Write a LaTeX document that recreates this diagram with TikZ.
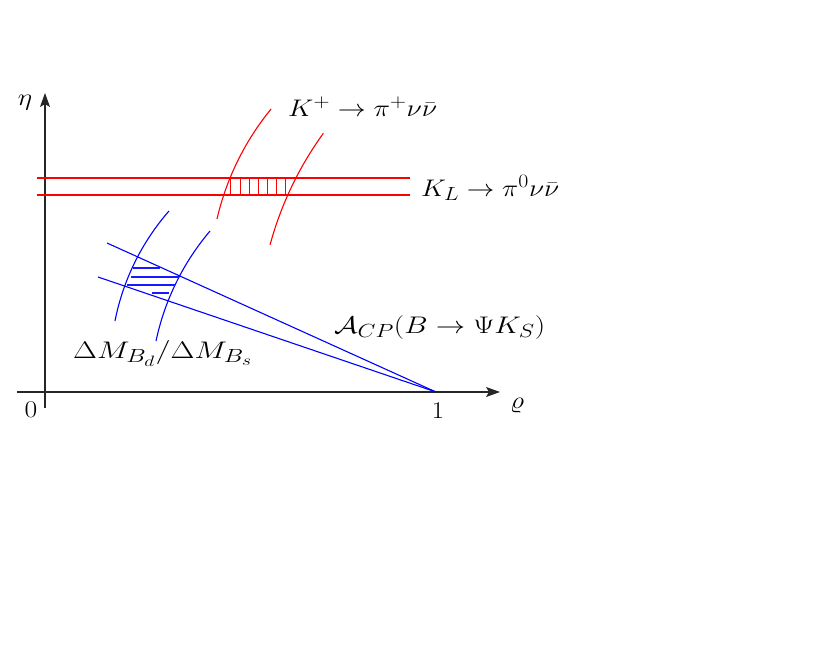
\RequirePackage{fix-cm}
\documentclass[tikz,border=0pt]{standalone}
\usepackage{graphicx}
\usetikzlibrary{arrows.meta}
\DeclareMathSizes{24}{24}{19}{15}
\newcommand{\fitw}[2]{\resizebox{#1}{\height}{#2}}
\newcommand{\wider}[1]{\scalebox{1.15}[1]{#1}}
\begin{document}
\begin{tikzpicture}[x=1pt,y=-1pt,
  axisline/.style={black!85,line width=1.1pt},
  redline/.style={red,line width=1.1pt},
  blueline/.style={blue,line width=1.1pt},
  hatchred/.style={red,line width=1pt},
  hatchblue/.style={blue!90!white,line width=1.1pt},
  lab/.style={inner sep=0pt,font=\fontsize{24}{29}\selectfont},
  tip/.style={-{Stealth[length=14pt,width=10pt,inset=3pt]}}]
\useasboundingbox (0,0) rectangle (817,654);
% axes
\coordinate (xa) at (17,392);
\coordinate (xb) at (500,392);
\coordinate (ya) at (45,408);
\coordinate (yb) at (45,93);
\draw[axisline,tip] (xa) -- (xb);
\draw[axisline,tip] (ya) -- (yb);
\node[lab,anchor=base] (eta) at (25,105) {\wider{$\eta$}};
\node[lab,anchor=base] (rho) at (517,408) {\wider{$\varrho$}};
\node[lab,anchor=base] (zero) at (31,417) {\wider{$0$}};
\node[lab,anchor=base] (one) at (438,418) {\wider{$1$}};
% red band
\coordinate (r1a) at (37,178); \coordinate (r1b) at (410,178);
\coordinate (r2a) at (37,195); \coordinate (r2b) at (410,195);
\draw[redline] (r1a) -- (r1b);
\draw[redline] (r2a) -- (r2b);
\foreach \x in {230.7,240.7,249.3,258.3,267.3,276.3,285.3}
  \draw[hatchred] (\x,178) -- (\x,195);
% red arcs
\draw[redline] plot[domain=193.06:219.3,samples=40,smooth] ({480+270*cos(\x)},{280+270*sin(\x)});
\draw[redline] plot[domain=195.2:215.9,samples=40,smooth] ({602+344*cos(\x)},{335+344*sin(\x)});
% blue arcs
\draw[blueline] plot[domain=191.15:221.15,samples=40,smooth] ({347.3+236.8*cos(\x)},{366.8+236.8*sin(\x)});
\draw[blueline] plot[domain=191.95:220.35,samples=40,smooth] ({400.3+249.7*cos(\x)},{392.7+249.7*sin(\x)});
% blue lines
\coordinate (apex) at (436,392);
\coordinate (b1) at (107,243);
\coordinate (b2) at (98,277);
\draw[blueline] (b1) -- (apex);
\draw[blueline] (b2) -- (apex);
% blue hatch
\draw[hatchblue] (133,268) -- (160,268);
\draw[hatchblue] (131,277) -- (179,277);
\draw[hatchblue] (127,285) -- (175,285);
\draw[hatchblue] (152,293) -- (169,293);
% labels
\node[lab,anchor=base west] (kplus) at (288,116) {\fitw{149pt}{$K^+\rightarrow\pi^+\nu\bar\nu$}};
\node[lab,anchor=base west] (kl) at (421,196) {\fitw{138pt}{$K_L\rightarrow\pi^0\nu\bar\nu$}};
\node[lab,anchor=base west] (acp) at (334,333) {\fitw{211pt}{$\mathcal{A}_{CP}(B\rightarrow\Psi K_S)$}};
\node[lab,anchor=base west] (dm) at (73,358) {\fitw{179pt}{$\Delta M_{B_d}/\Delta M_{B_s}$}};
\end{tikzpicture}
\end{document}
